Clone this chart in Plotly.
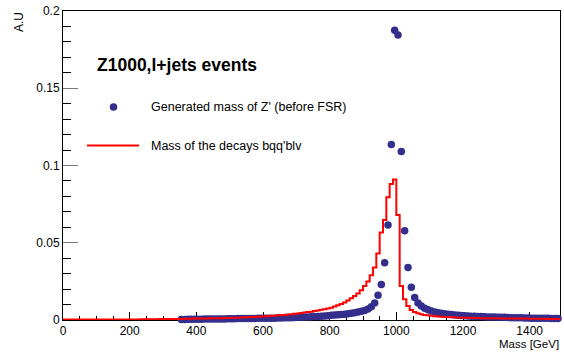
import plotly.graph_objects as go

# ---------------- data (10 GeV bins, 0-1500 GeV) ----------------
bin_width = 10
n_bins = 150

# Red histogram: mass of the decays bqq'blv (A.U per bin)
red_values = [
    0.0003, 0.0003, 0.0003, 0.0003, 0.0003, 0.0003, 0.0003, 0.0003, 0.0003, 0.0003,   # 0-90
    0.0003, 0.0003, 0.0003, 0.0003, 0.0004, 0.0004, 0.0004, 0.0004, 0.0004, 0.0004,   # 100-190
    0.0004, 0.0004, 0.0004, 0.0005, 0.0005, 0.0005, 0.0005, 0.0005, 0.0005, 0.0006,   # 200-290
    0.0006, 0.0006, 0.0006, 0.0007, 0.0007, 0.0007, 0.0008, 0.0008, 0.0008, 0.0009,   # 300-390
    0.0009, 0.0009, 0.0010, 0.0010, 0.0011, 0.0011, 0.0012, 0.0012, 0.0013, 0.0013,   # 400-490
    0.0014, 0.0015, 0.0015, 0.0016, 0.0017, 0.0018, 0.0019, 0.0020, 0.0021, 0.0022,   # 500-590
    0.0024, 0.0025, 0.0027, 0.0028, 0.0030, 0.0031, 0.0033, 0.0035, 0.0037, 0.0040,   # 600-690
    0.0042, 0.0045, 0.0048, 0.0051, 0.0054, 0.0058, 0.0062, 0.0066, 0.0070, 0.0075,   # 700-790
    0.0080, 0.0087, 0.0095, 0.0104, 0.0114, 0.0126, 0.0140, 0.0155, 0.0172, 0.0193,   # 800-890
    0.0220, 0.0250, 0.0290, 0.0340, 0.0430, 0.0567, 0.0647, 0.0794, 0.0881, 0.0909,   # 900-990
    0.0680, 0.0220, 0.0134, 0.0090, 0.0065, 0.0052, 0.0043, 0.0037, 0.0033, 0.0030,   # 1000-1090
    0.0027, 0.0025, 0.0023, 0.0021, 0.0020, 0.0019, 0.0018, 0.0017, 0.0016, 0.0015,   # 1100-1190
    0.0015, 0.0014, 0.0014, 0.0013, 0.0013, 0.0012, 0.0012, 0.0012, 0.0011, 0.0011,   # 1200-1290
    0.0011, 0.0010, 0.0010, 0.0010, 0.0010, 0.0009, 0.0009, 0.0009, 0.0009, 0.0009,   # 1300-1390
    0.0008, 0.0008, 0.0008, 0.0008, 0.0008, 0.0007, 0.0007, 0.0007, 0.0007, 0.0007,   # 1400-1490
]

# Blue points: generated mass of Z' (before FSR); None = empty bin
blue_values = [
    None, None, None, None, None, None, None, None, None, None,                       # 0-90
    None, None, None, None, None, None, None, None, None, None,                       # 100-190
    None, None, None, None, None, None, None, None, None, None,                       # 200-290
    None, None, None, None, None, 0.0004, 0.0004, 0.0005, 0.0005, 0.0005,             # 300-390
    0.0005, 0.0005, 0.0006, 0.0006, 0.0006, 0.0006, 0.0007, 0.0007, 0.0007, 0.0008,   # 400-490
    0.0008, 0.0008, 0.0009, 0.0009, 0.0009, 0.0010, 0.0010, 0.0010, 0.0011, 0.0011,   # 500-590
    0.0011, 0.0011, 0.0012, 0.0012, 0.0013, 0.0013, 0.0014, 0.0015, 0.0015, 0.0016,   # 600-690
    0.0017, 0.0018, 0.0019, 0.0020, 0.0021, 0.0022, 0.0023, 0.0025, 0.0026, 0.0028,   # 700-790
    0.0030, 0.0032, 0.0034, 0.0036, 0.0038, 0.0041, 0.0044, 0.0047, 0.0051, 0.0056,   # 800-890
    0.0062, 0.0072, 0.0085, 0.0110, 0.0160, 0.0230, 0.0370, 0.0615, 0.1136, 0.1875,   # 900-990
    0.1845, 0.1090, 0.0578, 0.0340, 0.0212, 0.0145, 0.0110, 0.0090, 0.0076, 0.0066,   # 1000-1090
    0.0058, 0.0052, 0.0047, 0.0043, 0.0040, 0.0037, 0.0035, 0.0033, 0.0031, 0.0029,   # 1100-1190
    0.0028, 0.0026, 0.0025, 0.0024, 0.0023, 0.0022, 0.0021, 0.0020, 0.0019, 0.0019,   # 1200-1290
    0.0018, 0.0017, 0.0017, 0.0016, 0.0015, 0.0015, 0.0014, 0.0014, 0.0013, 0.0013,   # 1300-1390
    0.0012, 0.0012, 0.0012, 0.0011, 0.0011, 0.0011, 0.0010, 0.0010, 0.0010, 0.0010,   # 1400-1490
]

x_tick_values = [0, 200, 400, 600, 800, 1000, 1200, 1400]
y_tick_values = [0, 0.05, 0.1, 0.15, 0.2]

title_text = "Z1000,l+jets events"
blue_label = "Generated mass of Z' (before FSR)"
red_label = "Mass of the decays bqq'blv"
x_title = "Mass [GeV]"
y_title = "A.U"

# ---------------- derived geometry ----------------
edges = [i * bin_width for i in range(n_bins + 1)]
centers = [(edges[i] + edges[i + 1]) / 2 for i in range(n_bins)]

BLUE = "rgb(52,46,140)"
RED = "#ff0000"
FONT = "Liberation Sans, Arial, sans-serif"

W, H = 564, 353
L, R, T, B = 63, 4, 11, 33
pw, ph = W - L - R, H - T - B


def px_to_paper(px, py):
    return (px - L) / pw, (H - B - py) / ph


fig = go.Figure()

fig.add_trace(go.Scatter(
    x=centers, y=blue_values, mode="markers",
    marker=dict(color=BLUE, size=7.5, line=dict(width=0)),
    cliponaxis=False, showlegend=False, hoverinfo="skip",
))

fig.add_trace(go.Scatter(
    x=edges, y=red_values + [red_values[-1]], mode="lines",
    line=dict(color=RED, width=2, shape="hv"),
    cliponaxis=True, showlegend=False, hoverinfo="skip",
))

fig.update_layout(
    width=W, height=H,
    margin=dict(l=L, r=R, t=T, b=B, pad=0),
    paper_bgcolor="white", plot_bgcolor="white",
    font=dict(family=FONT, size=12, color="black"),
    showlegend=False,
)

fig.update_xaxes(
    range=[0, pw * 3], tickvals=x_tick_values, ticks="inside", ticklen=8,
    tickcolor="black", tickwidth=1, showgrid=False, zeroline=False,
    showline=True, linecolor="black", linewidth=1, mirror=True,
    tickfont=dict(size=12), layer="below traces",
    minor=dict(dtick=50, ticks="inside", ticklen=4, tickcolor="black", showgrid=False),
)
fig.update_yaxes(
    range=[0, 0.2], tickvals=y_tick_values, ticks="inside", ticklen=15,
    tickcolor="#777777", tickwidth=1, showgrid=False, zeroline=False,
    showline=True, linecolor="black", linewidth=1, mirror=True,
    tickfont=dict(size=12), layer="below traces",
    minor=dict(dtick=0.01, ticks="inside", ticklen=8, tickcolor="black", showgrid=False),
)

annotations = []
# y title
ax, ay = px_to_paper(19, 10)
annotations.append(dict(text=y_title, xref="paper", yref="paper", x=ax, y=ay,
                        xanchor="center", yanchor="top", textangle=-90,
                        showarrow=False, font=dict(size=12)))
# x title
ax, ay = px_to_paper(561, 352)
annotations.append(dict(text=x_title, xref="paper", yref="paper", x=ax, y=ay,
                        xanchor="right", yanchor="bottom",
                        showarrow=False, font=dict(size=11.5)))
# legend header
ax, ay = px_to_paper(95, 65)
annotations.append(dict(text="<b>" + title_text + "</b>", xref="paper", yref="paper",
                        x=ax, y=ay, xanchor="left", yanchor="middle",
                        showarrow=False, font=dict(size=17.5)))
ax, ay = px_to_paper(149, 106.5)
annotations.append(dict(text=blue_label, xref="paper", yref="paper", x=ax, y=ay,
                        xanchor="left", yanchor="middle", showarrow=False,
                        font=dict(size=12.5)))
ax, ay = px_to_paper(149, 146)
annotations.append(dict(text=red_label, xref="paper", yref="paper", x=ax, y=ay,
                        xanchor="left", yanchor="middle", showarrow=False,
                        font=dict(size=12.5)))
fig.update_layout(annotations=annotations)

# legend symbols
x0, y0 = px_to_paper(113.5 - 3.75, 107 + 3.75)
x1, y1 = px_to_paper(113.5 + 3.75, 107 - 3.75)
fig.add_shape(type="circle", xref="paper", yref="paper", x0=x0, y0=y0, x1=x1, y1=y1,
              fillcolor=BLUE, line=dict(width=0))
x0, y0 = px_to_paper(87, 145.5)
x1, _ = px_to_paper(139, 145.5)
fig.add_shape(type="line", xref="paper", yref="paper", x0=x0, y0=y0, x1=x1, y1=y0,
              line=dict(color=RED, width=2))

fig.write_html("out.html")
